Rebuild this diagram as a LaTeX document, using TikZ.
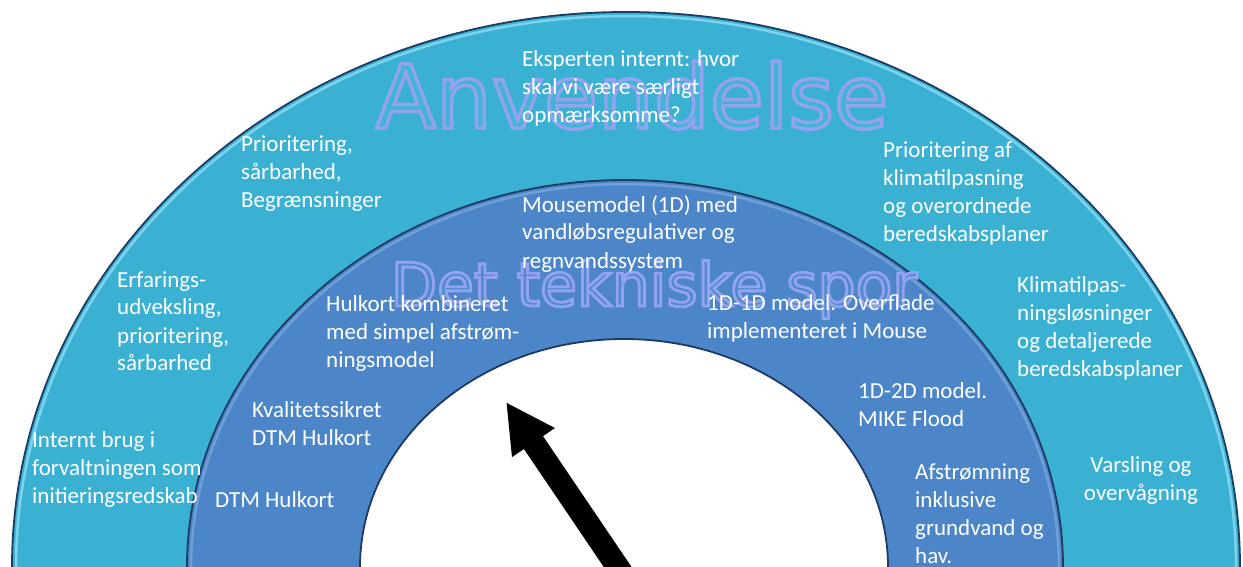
\documentclass[tikz,border=0pt]{standalone}
\usepackage{fontspec}
\setmainfont{Carlito}
\newfontfamily\titlefont{DejaVu Sans}
\usetikzlibrary{arrows.meta}
\definecolor{outerring}{RGB}{58,177,211}
\definecolor{outerhi}{RGB}{125,212,236}
\definecolor{innerring}{RGB}{76,134,200}
\definecolor{innerhi}{RGB}{110,160,215}
\definecolor{ringedge}{RGB}{28,58,98}
\definecolor{titleA}{RGB}{66,180,214}
\definecolor{titleB}{RGB}{80,138,204}
% outlined text: stroke colour (pdf rgb), stroke width, text
\newcommand{\outlined}[3]{\special{pdf:literal direct #1 RG #2 w 2 Tr}#3\special{pdf:literal direct 0 Tr 0 0 0 RG}}
\newcommand{\lns}[1]{\begin{tabular}[t]{@{}l@{}}#1\end{tabular}}
\newcommand{\clns}[1]{\begin{tabular}[t]{@{}c@{}}#1\end{tabular}}
\tikzset{
  label/.style={text=white, inner sep=0pt, anchor=base west, font=\fontsize{23}{28}\selectfont},
  clabel/.style={label, anchor=base},
  bigtitle/.style={inner sep=0pt, anchor=base},
  needle/.style={line width=23pt, black, -{Triangle[length=49pt,width=48pt]}},
}
\begin{document}
\begin{tikzpicture}[x=1pt,y=-1pt]
\useasboundingbox (0,0) rectangle (1243,567);
\fill[white] (0,0) rectangle (1243,567);
\begin{scope}
\clip (0,0) rectangle (1243,567);
% outer ring
\filldraw[fill=outerring, draw=ringedge, line width=1.8pt] (626,567) ellipse [x radius=614pt, y radius=555pt];
\draw[outerhi, line width=2.5pt] (626,567) ellipse [x radius=610pt, y radius=551pt];
% inner ring
\filldraw[fill=innerring, draw=ringedge, line width=1.8pt] (625,567) ellipse [x radius=438pt, y radius=387pt];
\draw[innerhi, line width=2.5pt] (625,567) ellipse [x radius=434pt, y radius=383pt];
% white centre
\filldraw[fill=white, draw=ringedge, line width=1.8pt] (624,567) ellipse [x radius=264pt, y radius=228pt];
\end{scope}

% titles
\node[bigtitle, text=titleA, font=\titlefont\fontsize{88}{88}\selectfont] (anv) at (632,128) {\outlined{0.58 0.64 0.94}{3.4}{Anvendelse}};
\node[bigtitle, text=titleB, font=\titlefont\fontsize{60}{60}\selectfont] (tek) at (654,306) {\outlined{0.58 0.64 0.94}{2.8}{Det tekniske spor}};

% outer ring texts
\node[label] (eksp) at (522,67) {\lns{Eksperten internt: hvor\\skal vi være særligt\\opmærksomme?}};
\node[label] (prioA) at (241,152) {\lns{Prioritering,\\sårbarhed,\\Begrænsninger}};
\node[label] (erf) at (117,287) {\lns{Erfarings-\\udveksling,\\prioritering,\\sårbarhed}};
\node[label] (intern) at (32,447) {\lns{Internt brug i\\forvaltningen som\\initieringsredskab}};
\node[label] (prioB) at (883,158) {\lns{Prioritering af\\klimatilpasning\\og overordnede\\beredskabsplaner}};
\node[label] (klima) at (1017,292) {\lns{Klimatilpas-\\ningsløsninger\\og detaljerede\\beredskabsplaner}};
\node[clabel] (vars) at (1141,472) {\clns{Varsling og\\overvågning}};

% inner ring texts
\node[label] (mouse) at (522,212) {\lns{Mousemodel (1D) med\\vandløbsregulativer og\\regnvandssystem}};
\node[label] (hul) at (326,311) {\lns{Hulkort kombineret\\med simpel afstrøm-\\ningsmodel}};
\node[label] (oned) at (707,310) {\lns{1D-1D model. Overflade\\implementeret i Mouse}};
\node[label] (twod) at (858,398) {\lns{1D-2D model.\\MIKE Flood}};
\node[label] (kval) at (252,417) {\lns{Kvalitetssikret\\DTM Hulkort}};
\node[label] (dtm) at (215,507) {DTM Hulkort};
\node[label] (afst) at (915,479) {\lns{Afstrømning\\inklusive\\grundvand og\\hav.}};

% needle
\coordinate (needlebase) at (638,597);
\coordinate (needletip) at (506,402);
\begin{scope}
\clip (0,0) rectangle (1243,567);
\draw[needle] (needlebase) -- (needletip);
\end{scope}
\end{tikzpicture}
\end{document}
